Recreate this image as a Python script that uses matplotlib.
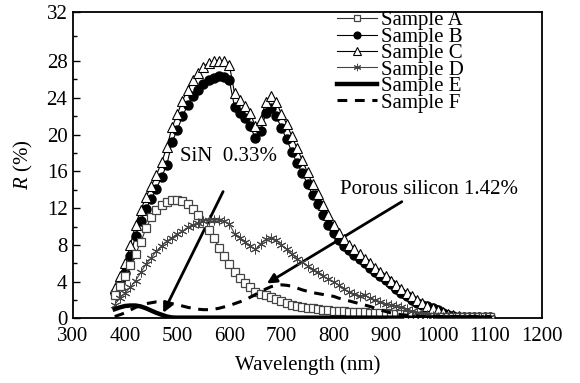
import numpy as np
import matplotlib
matplotlib.use("Agg")
import matplotlib.pyplot as plt
from matplotlib.ticker import MultipleLocator

# wavelength grid (nm), 10 nm steps from 380 to 1100
wavelength = list(range(380, 1101, 10))

sample_a = [2.5, 3.5, 4.6, 5.8, 7.0, 8.3, 9.8, 11.0, 11.8, 12.3,
            12.7, 12.9, 12.9, 12.8, 12.4, 11.9, 11.2, 10.4, 9.6, 8.8,
            7.7, 6.8, 5.9, 5.1, 4.4, 3.8, 3.4, 2.9, 2.7, 2.5,
            2.3, 2.1, 1.9, 1.7, 1.5, 1.4, 1.25, 1.15, 1.1, 1.0,
            0.95, 0.9, 0.85, 0.8, 0.75, 0.72, 0.7, 0.68, 0.65, 0.62,
            0.6, 0.58, 0.55, 0.52, 0.5, 0.45, 0.4, 0.35, 0.3, 0.25,
            0.2, 0.15, 0.1, 0.1, 0.1, 0.1, 0.1, 0.1, 0.1, 0.1,
            0.1, 0.1, 0.1]

sample_b = [2.8, 3.8, 4.9, 6.8, 9.0, 10.6, 11.9, 13.0, 14.1, 15.4,
            16.7, 19.2, 20.5, 22.0, 23.2, 24.2, 24.9, 25.5, 25.9, 26.2,
            26.4, 26.3, 25.9, 23.0, 22.4, 21.8, 20.9, 19.6, 20.4, 22.3,
            22.9, 22.0, 20.7, 19.5, 18.1, 16.9, 15.8, 14.6, 13.4, 12.4,
            11.2, 10.2, 9.3, 8.5, 7.9, 7.4, 6.9, 6.5, 6.0, 5.5,
            5.0, 4.6, 4.2, 3.7, 3.2, 2.8, 2.4, 2.0, 1.7, 1.5,
            1.3, 1.1, 0.9, 0.6, 0.4, 0.3, 0.2, 0.15, 0.1, 0.1,
            0.1, 0.1, 0.1]

sample_c = [3.3, 4.6, 6.0, 8.0, 10.2, 11.8, 13.2, 14.4, 15.6, 17.0,
            18.6, 20.8, 22.2, 23.7, 24.9, 25.9, 26.7, 27.4, 27.8, 28.0,
            28.0, 28.0, 27.6, 24.5, 23.8, 23.1, 22.3, 20.9, 21.6, 23.6,
            24.2, 23.6, 22.2, 21.2, 19.8, 18.5, 17.2, 15.9, 14.6, 13.5,
            12.3, 11.2, 10.2, 9.3, 8.6, 8.0, 7.5, 7.0, 6.5, 6.0,
            5.5, 5.0, 4.6, 4.1, 3.6, 3.2, 2.8, 2.4, 2.0, 1.7,
            1.4, 1.1, 0.9, 0.7, 0.5, 0.35, 0.25, 0.2, 0.15, 0.15,
            0.15, 0.15, 0.15]

sample_d = [1.5, 2.2, 2.8, 3.4, 4.1, 5.0, 5.9, 6.6, 7.3, 7.9,
            8.4, 8.8, 9.2, 9.5, 9.9, 10.2, 10.4, 10.6, 10.7, 10.7,
            10.7, 10.6, 10.3, 9.2, 8.8, 8.3, 7.9, 7.5, 8.1, 8.6,
            8.8, 8.5, 8.0, 7.5, 7.0, 6.5, 6.1, 5.7, 5.3, 5.0,
            4.6, 4.3, 4.0, 3.6, 3.2, 2.9, 2.6, 2.4, 2.5, 2.2,
            2.0, 1.8, 1.6, 1.5, 1.3, 1.2, 1.0, 0.8, 0.6, 0.5,
            0.4, 0.3, 0.2, 0.2, 0.2, 0.2, 0.2, 0.2, 0.2, 0.2,
            0.2, 0.2, 0.2]

sample_e = [1.0, 1.2, 1.35, 1.4, 1.4, 1.3, 1.1, 0.85, 0.6, 0.4,
            0.2, 0.1] + [0.08] * 61

sample_f = [0.2, 0.4, 0.6, 0.9, 1.2, 1.4, 1.6, 1.7, 1.8, 1.8,
            1.75, 1.6, 1.5, 1.35, 1.2, 1.1, 1.0, 0.95, 0.95, 1.0,
            1.1, 1.25, 1.4, 1.6, 1.8, 2.0, 2.3, 2.6, 2.9, 3.2,
            3.45, 3.6, 3.65, 3.6, 3.5, 3.3, 3.1, 2.95, 2.8, 2.7,
            2.6, 2.5, 2.4, 2.2, 2.05, 1.9, 1.75, 1.6, 1.45, 1.3,
            1.1, 0.9, 0.75, 0.6, 0.5, 0.4, 0.35, 0.3, 0.25, 0.2,
            0.2, 0.2, 0.2, 0.2, 0.2, 0.2, 0.2, 0.2, 0.2, 0.2,
            0.2, 0.2, 0.2]

plt.rcParams['font.family'] = ['Liberation Serif', 'DejaVu Serif']
plt.rcParams['mathtext.fontset'] = 'custom'
plt.rcParams['mathtext.it'] = 'Liberation Serif:italic'
plt.rcParams['mathtext.rm'] = 'Liberation Serif'

# the original's y axis is stretched above 28
K_TOP = 1.345


def y_forward(y):
    y = np.asarray(y, dtype=float)
    return np.where(y <= 28, y, 28 + (y - 28) * K_TOP)


def y_inverse(u):
    u = np.asarray(u, dtype=float)
    return np.where(u <= 28, u, 28 + (u - 28) / K_TOP)


fig = plt.figure(figsize=(5.8, 3.83), dpi=100)
ax = fig.add_axes([0.1259, 0.1687, 0.8086, 0.8008])
ax.set_yscale('function', functions=(y_forward, y_inverse))

ax.plot(wavelength, sample_b, color='black', lw=0.8, marker='o', ms=6.5,
        mfc='black', mec='black', label='Sample B', zorder=3)
ax.plot(wavelength, sample_c, color='black', lw=0.8, marker='^', ms=7.5,
        mfc='white', mec='black', mew=0.8, label='Sample C', zorder=4)
ax.plot(wavelength, sample_a, color='#333333', lw=0.8, marker='s', ms=5.8,
        mfc='white', mec='#444444', mew=0.9, label='Sample A', zorder=5)
ax.plot(wavelength, sample_d, color='#444444', lw=0.8, marker=(6, 2, 0), ms=7,
        mec='#444444', mew=0.7, label='Sample D', zorder=6)
ax.plot(wavelength, sample_e, color='black', lw=3.2, label='Sample E', zorder=7)
ax.plot(wavelength, sample_f, color='black', lw=2.2, ls=(0, (3.2, 2.5)),
        label='Sample F', zorder=7)

ax.set_xlim(300, 1200)
ax.set_ylim(0, 32)
ax.set_xticks(range(300, 1201, 100))
ax.yaxis.set_major_locator(MultipleLocator(4))
ax.yaxis.set_minor_locator(MultipleLocator(2))
ax.tick_params(axis='x', length=0, labelsize=15, pad=6)
ax.tick_params(axis='y', which='major', direction='in', length=5, width=1,
               labelsize=15, pad=4)
ax.tick_params(axis='y', which='minor', direction='in', length=3, width=1)
for s in ax.spines.values():
    s.set_linewidth(1.3)

ax.set_xlabel('Wavelength (nm)', fontsize=15, labelpad=7)
ax.set_ylabel('$R$ (%)', fontsize=15, labelpad=8)

# annotations
ax.text(599, 17.6, 'SiN  0.33%', fontsize=15, ha='center', va='center')
ax.annotate('', xy=(473, 0.6), xytext=(588, 13.8),
            arrowprops=dict(arrowstyle='-|>', color='black', lw=2,
                            mutation_scale=14, shrinkA=0, shrinkB=0))
ax.text(812, 14.0, 'Porous silicon 1.42%', fontsize=15, ha='left', va='center')
ax.annotate('', xy=(672, 3.8), xytext=(931, 12.7),
            arrowprops=dict(arrowstyle='-|>', color='black', lw=2,
                            mutation_scale=14, shrinkA=0, shrinkB=0))

handles, labels = ax.get_legend_handles_labels()
order = ['Sample A', 'Sample B', 'Sample C', 'Sample D', 'Sample E', 'Sample F']
hmap = dict(zip(labels, handles))
ax.legend([hmap[k] for k in order], order, loc='upper left',
          bbox_to_anchor=(0.545, 1.03), frameon=False, fontsize=15,
          handlelength=1.9, handletextpad=0.2, labelspacing=-0.15,
          borderaxespad=0.0, markerscale=0.75)

fig.savefig('out.png', dpi=100)
